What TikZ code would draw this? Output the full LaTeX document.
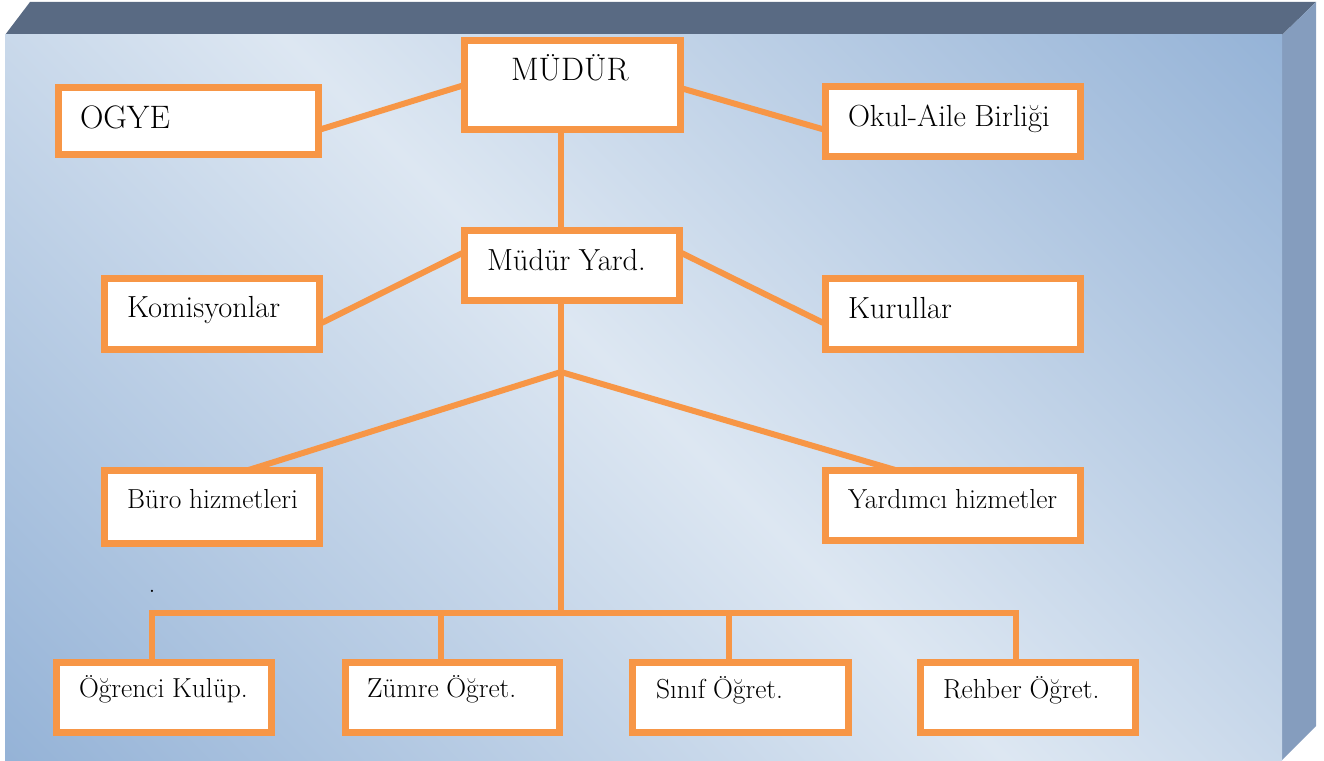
\documentclass[tikz,border=0pt]{standalone}
\definecolor{org}{RGB}{247,150,70}
\definecolor{topface}{RGB}{89,106,131}
\definecolor{sideface}{RGB}{133,157,190}
\definecolor{fblue}{RGB}{149,179,215}
\definecolor{flight}{RGB}{221,231,242}
\pgfdeclareverticalshading{frontshade}{100bp}{color(0bp)=(fblue); color(14.6bp)=(fblue); color(50bp)=(flight); color(85.4bp)=(fblue); color(100bp)=(fblue)}
\pgfdeclarelayer{frame}
\pgfdeclarelayer{links}
\pgfsetlayers{frame,links,main}
\newcommand{\fszA}{\fontsize{32.5pt}{36pt}\selectfont\spaceskip=0.28em\relax}
\newcommand{\fszB}{\fontsize{30.5pt}{34pt}\selectfont\spaceskip=0.28em\relax}
\newcommand{\fszC}{\fontsize{27.5pt}{31pt}\selectfont\spaceskip=0.28em\relax}
\tikzset{
  obox/.style={draw=org, line width=7pt, fill=white, anchor=north west, inner ysep=0pt, outer sep=0pt, align=left},
  link/.style={draw=org, line width=6pt}
}
% #1 name, #2 x0, #3 y0, #4 x1, #5 y1 (outer), #6 text x, #7 baseline y, #8 text
\newcommand{\orgbox}[8]{%
  \pgfmathsetmacro\bxW{#4-#2-7}%
  \pgfmathsetmacro\bxH{#5-#3-7}%
  \pgfmathsetmacro\bxS{#6-#2-3.5}%
  \pgfmathsetmacro\bxB{#7-#3-3.5}%
  \pgfmathsetmacro\bxD{\bxH-\bxB}%
  \pgfmathsetmacro\bxT{\bxW-2*\bxS}%
  \node[obox, minimum width=\bxW pt, minimum height=\bxH pt, inner xsep=\bxS pt, text width=\bxT pt, text height=\bxB pt, text depth=\bxD pt] (#1) at (#2+3.5,#3+3.5) {\mbox{#8}};%
}
\begin{document}
\begin{tikzpicture}[x=1pt, y=-1pt]
\useasboundingbox (0,0) rectangle (1324,760);
\begin{pgfonlayer}{frame}
  \fill[topface] (5,35) -- (30,2) -- (1316,2) -- (1282,35) -- cycle;
  \fill[sideface] (1282,35) -- (1316,2) -- (1316,726) -- (1282,760) -- cycle;
  \shade[shading=frontshade, shading angle=-45] (5,35) rectangle (1282,760);
\end{pgfonlayer}

\orgbox{mudur}{461}{37}{684}{133}{511}{80}{\fszA MÜDÜR}
\orgbox{ogye}{55}{84}{322}{158}{80}{128}{\fszA OGYE}
\orgbox{okul}{822}{83}{1084}{160}{848}{126}{\fszB Okul-Aile Birliği}
\orgbox{myard}{461}{227}{683}{304}{487}{270}{\fszB Müdür Yard.}
\orgbox{komis}{101}{275}{323}{353}{127}{317}{\fszB Komisyonlar}
\orgbox{kurul}{822}{275}{1084}{353}{848}{318}{\fszB Kurullar}
\orgbox{buro}{101}{467}{323}{547}{127}{508}{\fszC Büro hizmetleri}
\orgbox{yard}{822}{467}{1084}{544}{848}{508}{\fszC Yardımcı hizmetler}
\orgbox{ogr}{53}{659}{275}{736}{79}{697}{\fszC Öğrenci Kulüp.}
\orgbox{zumre}{342}{659}{563}{736}{367}{697}{\fszC Zümre Öğret.}
\orgbox{sinif}{629}{659}{852}{736}{656}{698}{\fszC Sınıf Öğret.}
\orgbox{rehber}{917}{659}{1139}{736}{943}{698}{\fszC Rehber Öğret.}

\node[font=\fszC, anchor=base, inner sep=0pt] (dot) at (152,592) {.};

\coordinate (j1) at (561,372);
\coordinate (j2) at (561,613);

\begin{pgfonlayer}{links}
  \draw[link] ([yshift=-9pt]ogye.east) -- (mudur.west);
  \draw[link] ([yshift=-3pt]mudur.east) -- ([yshift=-8.5pt]okul.west);
  \draw[link] (mudur.south -| j1) -- (myard.north -| j1);
  \draw[link] ([yshift=13.5pt]myard.west) -- ([yshift=-10pt]komis.east);
  \draw[link] ([yshift=13.5pt]myard.east) -- ([yshift=-10pt]kurul.west);
  \draw[link] (myard.south -| j1) -- (j2);
  \draw[link] ([xshift=35pt]buro.north) -- (j1) -- ([xshift=-56pt]yard.north);
  \draw[link] ([xshift=-12pt]ogr.north) |- (j2) -| ([xshift=-12pt]rehber.north);
  \draw[link] ([xshift=-12pt]zumre.north) -- ([xshift=-12pt]zumre.north |- j2);
  \draw[link] ([xshift=-12pt]sinif.north) -- ([xshift=-12pt]sinif.north |- j2);
\end{pgfonlayer}
\end{tikzpicture}
\end{document}
